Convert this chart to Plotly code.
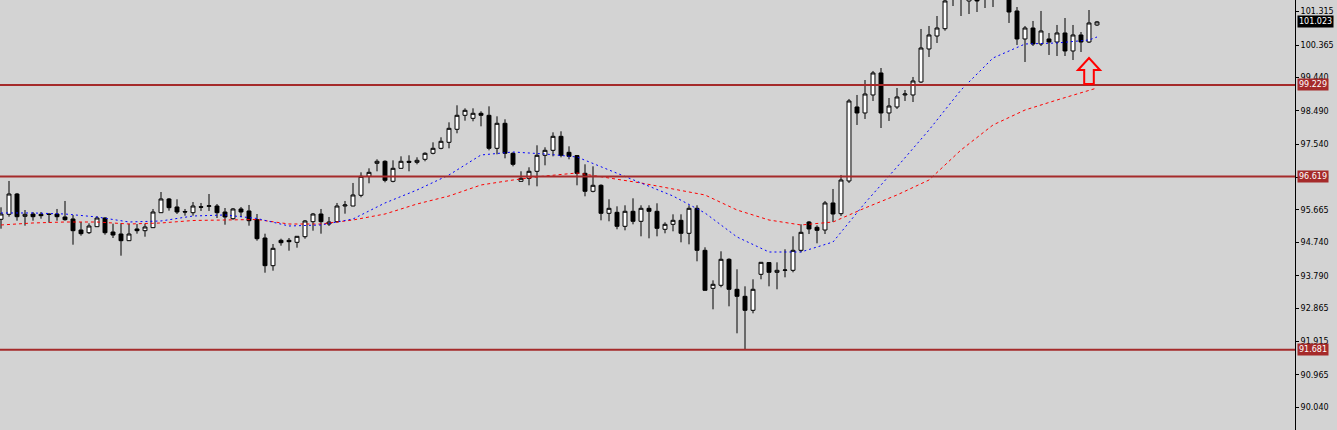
"""
Daily candles with two moving averages and horizontal levels (MT4 look)
"""

import plotly.graph_objects as go

# --- OHLC data, one value per bar (oldest first) ---
opens = [
    95.398, 95.540, 96.119, 95.483, 95.549, 95.540, 95.549, 95.549, 95.464, 95.407,
    95.093, 95.016, 95.187, 95.435, 95.036, 94.979, 94.788, 95.122, 95.073, 95.159,
    95.586, 95.977, 95.749, 95.620, 95.586, 95.757, 95.768, 95.777, 95.606, 95.415,
    95.692, 95.635, 95.387, 94.865, 94.076, 94.799, 94.799, 94.742, 94.902, 95.330,
    95.549, 95.264, 95.330, 95.777, 95.777, 96.082, 96.623, 96.994, 97.051, 96.481,
    96.851, 97.051, 97.022, 97.108, 97.279, 97.421, 97.592, 97.963, 98.362, 98.276,
    98.419, 98.362, 97.421, 98.134, 97.279, 96.481, 96.566, 96.766, 97.222, 97.364,
    97.763, 97.307, 97.215, 96.709, 96.196, 96.367, 95.569, 95.597, 95.198, 95.626,
    95.341, 95.711, 95.626, 95.113, 95.255, 95.369, 94.999, 95.711, 94.514, 93.431,
    93.517, 94.258, 93.403, 93.203, 92.804, 93.830, 94.165, 93.887, 93.944, 93.944,
    94.514, 95.321, 95.170, 95.093, 95.863, 95.558, 96.490, 98.599, 98.428, 98.941,
    99.568, 98.428, 98.599, 98.941, 98.941, 99.311, 100.252, 100.622, 100.830, 101.734,
    102.218, 101.620, 102.218, 101.791, 102.446, 101.933, 101.933, 101.335, 100.537, 100.850,
    100.394, 100.537, 100.451, 100.708, 100.195, 100.651, 100.451, 100.936,
]
highs = [
    95.740, 96.490, 96.148, 95.663, 95.606, 95.606, 95.569, 95.692, 95.920, 95.521,
    95.321, 95.284, 95.483, 95.455, 95.273, 95.284, 95.273, 95.264, 95.273, 95.692,
    96.176, 96.005, 95.968, 95.692, 95.891, 95.863, 96.119, 95.834, 95.720, 95.720,
    95.749, 95.806, 95.549, 94.988, 94.694, 94.845, 94.865, 94.920, 95.378, 95.578,
    95.692, 95.464, 95.863, 95.920, 96.433, 96.737, 96.851, 97.108, 97.079, 97.079,
    97.193, 97.222, 97.165, 97.307, 97.592, 97.735, 98.162, 98.647, 98.561, 98.561,
    98.476, 98.618, 98.333, 98.248, 97.307, 96.766, 96.880, 97.507, 97.450, 97.877,
    97.906, 97.478, 97.222, 96.965, 96.908, 96.395, 95.968, 95.768, 95.797, 95.996,
    95.797, 95.797, 95.854, 95.312, 95.540, 95.540, 95.797, 95.797, 94.600, 93.659,
    94.486, 94.286, 93.973, 93.488, 93.688, 94.180, 94.180, 94.172, 94.543, 94.913,
    95.255, 95.350, 95.227, 95.920, 96.262, 96.661, 98.827, 98.941, 99.368, 99.625,
    99.710, 98.855, 99.140, 99.083, 99.454, 100.822, 100.907, 101.192, 101.734, 102.360,
    102.503, 102.446, 102.646, 102.503, 102.731, 102.788, 102.218, 101.448, 100.907, 101.050,
    101.335, 100.708, 100.936, 101.135, 100.936, 100.736, 101.363, 101.050,
]
lows = [
    95.130, 95.472, 95.358, 95.216, 95.358, 95.415, 95.301, 95.358, 95.358, 94.674,
    94.931, 94.979, 95.180, 94.959, 94.865, 94.361, 94.780, 94.988, 94.902, 95.150,
    95.580, 95.643, 95.549, 95.501, 95.501, 95.635, 95.635, 95.435, 95.244, 95.387,
    95.464, 95.216, 94.788, 93.876, 93.933, 94.646, 94.503, 94.589, 94.845, 95.073,
    94.988, 95.207, 95.301, 95.558, 95.770, 96.025, 96.424, 96.766, 96.452, 96.452,
    96.845, 96.766, 96.965, 97.051, 97.250, 97.393, 97.421, 97.849, 98.208, 98.191,
    98.048, 97.364, 97.250, 97.136, 96.908, 96.475, 96.367, 96.338, 96.937, 97.193,
    97.165, 97.108, 96.367, 96.053, 96.167, 95.369, 95.341, 95.113, 95.084, 95.255,
    94.913, 94.856, 94.913, 94.999, 95.056, 94.742, 94.685, 94.201, 93.368, 92.833,
    93.460, 92.918, 92.149, 91.673, 92.719, 93.688, 93.488, 93.403, 93.745, 93.887,
    94.457, 94.979, 94.714, 94.979, 95.321, 95.492, 96.433, 98.086, 98.257, 98.770,
    98.000, 98.200, 98.542, 98.770, 98.741, 99.283, 100.024, 100.423, 100.773, 101.477,
    101.192, 101.249, 101.306, 101.420, 101.448, 101.734, 100.993, 100.366, 99.881, 100.337,
    100.337, 100.081, 100.052, 100.052, 99.938, 100.166, 100.423, 100.907,
]
closes = [
    95.549, 96.119, 95.472, 95.540, 95.472, 95.501, 95.535, 95.472, 95.387, 95.073,
    94.988, 95.207, 95.435, 95.016, 94.950, 94.788, 94.979, 95.073, 95.179, 95.606,
    95.977, 95.729, 95.606, 95.606, 95.777, 95.743, 95.783, 95.586, 95.464, 95.692,
    95.606, 95.358, 94.845, 94.076, 94.571, 94.731, 94.760, 94.913, 95.350, 95.549,
    95.330, 95.321, 95.777, 95.806, 96.091, 96.623, 96.737, 97.051, 96.509, 96.851,
    97.051, 97.022, 97.079, 97.279, 97.421, 97.621, 97.991, 98.362, 98.504, 98.419,
    98.362, 97.421, 98.134, 97.279, 96.965, 96.566, 96.766, 97.222, 97.364, 97.763,
    97.222, 97.193, 96.709, 96.196, 96.367, 95.569, 95.711, 95.198, 95.626, 95.341,
    95.711, 95.626, 95.141, 95.255, 95.369, 94.999, 95.711, 94.514, 93.374, 93.545,
    94.258, 93.403, 93.203, 92.804, 93.403, 94.172, 93.887, 93.944, 93.953, 94.514,
    95.027, 95.122, 95.084, 95.863, 95.549, 96.518, 98.770, 98.428, 98.969, 99.568,
    98.428, 98.627, 98.884, 98.969, 99.340, 100.280, 100.651, 100.850, 101.620, 102.075,
    101.705, 102.161, 101.620, 102.275, 101.819, 102.503, 101.306, 100.537, 100.850, 100.394,
    100.765, 100.451, 100.708, 100.195, 100.651, 100.451, 100.993, 101.023,
]

# --- moving averages read at every 4th bar ---
ma_idx = [0, 4, 8, 12, 16, 20, 24, 28, 32, 36, 40, 44, 48, 52, 56, 60, 64, 68,
          72, 76, 80, 84, 88, 92, 96, 100, 104, 108, 112, 116, 120, 124, 128, 132, 136, 137]
ma_fast = [95.578, 95.578, 95.549, 95.464, 95.321, 95.350, 95.492, 95.521, 95.421, 95.207,
           95.236, 95.407, 95.863, 96.233, 96.661, 97.231, 97.316, 97.259, 97.174, 96.803,
           96.433, 96.062, 95.578, 94.894, 94.466, 94.466, 94.751, 95.863, 96.889, 97.943,
           99.083, 99.995, 100.394, 100.423, 100.508, 100.594]
ma_slow = [95.236, 95.293, 95.321, 95.321, 95.264, 95.293, 95.364, 95.378, 95.392, 95.264,
           95.264, 95.378, 95.549, 95.834, 96.062, 96.376, 96.518, 96.632, 96.718, 96.575,
           96.433, 96.262, 96.091, 95.663, 95.378, 95.236, 95.321, 95.720, 96.091, 96.518,
           97.373, 98.086, 98.513, 98.798, 99.083, 99.140]

# horizontal support / resistance levels
levels = [99.229, 96.619, 91.681]

# price scale ticks (as MT4 prints them)
tick_vals = [101.315, 100.365, 99.440, 98.490, 97.540, 96.590, 95.665,
             94.740, 93.790, 92.865, 91.915, 90.965, 90.040]
tick_text = ["101.315", "100.365", "99.440", "98.490", "97.540", "96.590", "95.665",
             "94.740", "93.790", "92.865", "91.915", "90.965", "90.040"]

# buy signal arrow
signal_idx = 136
signal_tip = 99.995
signal_neck = 99.653
signal_base = 99.254

BG = "#d3d3d3"
LEVEL_COLOR = "#a52a2a"
AXIS_FONT = dict(family="DejaVu Sans, Tahoma, sans-serif", size=8, color="black")

bars = list(range(len(closes)))

fig = go.Figure()

fig.add_trace(go.Candlestick(
    x=bars, open=opens, high=highs, low=lows, close=closes,
    increasing=dict(line=dict(color="black", width=1), fillcolor="white"),
    decreasing=dict(line=dict(color="black", width=1), fillcolor="black"),
    whiskerwidth=0,
    hoverinfo="skip",
    showlegend=False,
))

fig.add_trace(go.Scatter(
    x=ma_idx, y=ma_slow, mode="lines",
    line=dict(color="red", width=1, dash="3px,3px"),
    hoverinfo="skip", showlegend=False,
))
fig.add_trace(go.Scatter(
    x=ma_idx, y=ma_fast, mode="lines",
    line=dict(color="blue", width=1, dash="2px,3px"),
    hoverinfo="skip", showlegend=False,
))

for lvl in levels:
    fig.add_hline(y=lvl, line=dict(color=LEVEL_COLOR, width=2))
    fig.add_annotation(
        x=1, xref="paper", y=lvl, yref="y", xanchor="left", yanchor="middle",
        xshift=2, text=f"{lvl:.3f}", showarrow=False,
        font=dict(family=AXIS_FONT["family"], size=8, color="white"),
        bgcolor=LEVEL_COLOR, borderpad=1,
    )

# last price label
fig.add_annotation(
    x=1, xref="paper", y=closes[-1], yref="y", xanchor="left", yanchor="middle",
    xshift=2, text=f"{closes[-1]:.3f}", showarrow=False,
    font=dict(family=AXIS_FONT["family"], size=8, color="white"),
    bgcolor="black", borderpad=1,
)

# hollow up arrow
sx, hw, sw = signal_idx, 1.375, 0.6
arrow_path = (
    f"M {sx - sw},{signal_base} L {sx - sw},{signal_neck} L {sx - hw},{signal_neck} "
    f"L {sx},{signal_tip} L {sx + hw},{signal_neck} L {sx + sw},{signal_neck} "
    f"L {sx + sw},{signal_base} Z"
)
fig.add_shape(type="path", path=arrow_path, xref="x", yref="y",
              line=dict(color="red", width=2), fillcolor="rgba(0,0,0,0)")

fig.update_layout(
    width=1337, height=430,
    margin=dict(l=0, r=42, t=0, b=0),
    paper_bgcolor=BG, plot_bgcolor=BG,
    showlegend=False,
    xaxis=dict(range=[-0.125, 161.75], showgrid=False, zeroline=False,
               showticklabels=False, ticks="", rangeslider=dict(visible=False),
               fixedrange=True),
    yaxis=dict(range=[89.393, 101.648], side="right", showgrid=False, zeroline=False,
               tickmode="array", tickvals=tick_vals, ticktext=tick_text,
               ticks="outside", ticklen=3, tickcolor="black",
               showline=True, linecolor="black", linewidth=1,
               tickfont=AXIS_FONT, fixedrange=True),
)

fig.write_html("out.html", config={"displayModeBar": False},
               post_script="document.body.style.margin='0';")
